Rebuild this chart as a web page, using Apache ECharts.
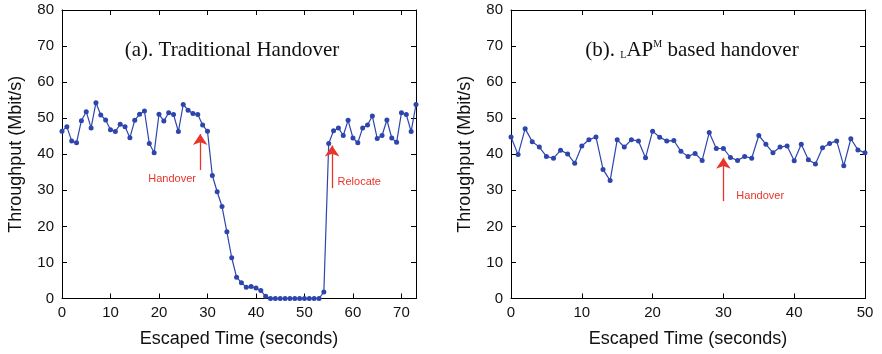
<!DOCTYPE html>
<html>
<head>
<meta charset="utf-8">
<script src="https://cdn.jsdelivr.net/npm/echarts@6/dist/echarts.min.js"></script>
<style>
  html, body { margin: 0; padding: 0; background: #fff; }
  #chart { width: 882px; height: 354px; }
</style>
</head>
<body>
<div id="chart"></div>
<script>
// (a) traditional handover: throughput sampled once per second
const timeA = [0,1,2,3,4,5,6,7,8,9,10,11,12,13,14,15,16,17,18,19,20,21,22,23,24,25,26,27,28,29,30,31,32,33,34,35,36,37,38,39,40,41,42,43,44,45,46,47,48,49,50,51,52,53,54,55,56,57,58,59,60,61,62,63,64,65,66,67,68,69,70,71,72,73];
const throughputA = [46.4,47.6,43.7,43.2,49.3,51.8,47.3,54.3,50.9,49.5,
  46.8,46.3,48.3,47.6,44.6,49.4,51.1,52.0,43.0,40.4,
  51.1,49.2,51.5,51.0,46.3,53.8,52.2,51.3,51.0,48.1,
  46.4,34.1,29.6,25.5,18.5,11.3,5.9,4.4,3.1,3.3,
  2.9,2.2,0.6,0,0,0,0,0,0,0,
  0,0,0,0,1.8,43.0,46.5,47.3,45.2,49.4,
  44.5,43.2,47.3,48.1,50.6,44.4,45.2,49.5,44.5,43.3,
  51.5,51.0,46.3,53.8];

// (b) LAP^M based handover
const timeB = [0,1,2,3,4,5,6,7,8,9,10,11,12,13,14,15,16,17,18,19,20,21,22,23,24,25,26,27,28,29,30,31,32,33,34,35,36,37,38,39,40,41,42,43,44,45,46,47,48,49,50];
const throughputB = [44.8,39.9,47.1,43.5,42.0,39.4,38.9,41.1,40.1,37.5,
  42.3,44.0,44.8,35.8,32.7,44.0,42.0,44.0,43.7,39.0,
  46.4,44.7,43.7,43.8,40.8,39.4,40.2,38.3,46.0,41.6,
  41.6,39.1,38.3,39.4,38.9,45.2,42.8,40.4,42.0,42.3,
  38.2,42.8,38.5,37.3,41.8,43.0,43.7,36.8,44.3,41.2,40.4];

const xMaxA = 73, xMaxB = 50;
const yTicks = { min: 0, max: 80, interval: 10 };

// annotation arrows [x, yFrom, yTo] and labels [x, y, text]
const arrowsA = [[28.5, 35.6, 45.6], [55.7, 30.6, 42.4]];
const labelsA = [[22.7, 33.1, 'Handover'], [61.3, 32.2, 'Relocate']];
const arrowsB = [[30, 27.0, 39.0]];
const labelsB = [[35.2, 28.4, 'Handover']];

const titleA = '(a). Traditional Handover';
const titleB = '(b). {sub|L}AP{sup|M} based handover';

const SANS = '"Liberation Sans", Arial, Helvetica, sans-serif';
const SERIF = '"Liberation Serif", "Times New Roman", serif';
const LINE_BLUE = '#2d45ac';
const RED = '#e8352b';

function zip(xs, ys) { return xs.map((x, i) => [x, ys[i]]); }

function xAxes(gridIndex, max, showMax) {
  const base = {
    type: 'value', gridIndex, min: 0, max, interval: 10,
    splitLine: { show: false },
    axisLine: { show: true, onZero: false, lineStyle: { color: '#000', width: 1 } },
    axisTick: { show: true, inside: true, length: 5, lineStyle: { color: '#000' } }
  };
  return [
    Object.assign({}, base, {
      position: 'bottom',
      name: 'Escaped Time (seconds)', nameLocation: 'middle', nameGap: 32,
      nameTextStyle: { fontFamily: SANS, fontSize: 18, color: '#111' },
      axisLabel: { fontFamily: SANS, fontSize: 15, color: '#111', margin: 7, showMaxLabel: showMax }
    }),
    Object.assign({}, base, { position: 'top', axisLabel: { show: false } })
  ];
}

function yAxes(gridIndex) {
  const base = Object.assign({
    type: 'value', gridIndex,
    splitLine: { show: false },
    axisLine: { show: true, onZero: false, lineStyle: { color: '#000', width: 1 } },
    axisTick: { show: true, inside: true, length: 5, lineStyle: { color: '#000' } }
  }, yTicks);
  return [
    Object.assign({}, base, {
      position: 'left',
      name: 'Throughput (Mbit/s)', nameLocation: 'middle', nameGap: 37,
      nameTextStyle: { fontFamily: SANS, fontSize: 18, color: '#111' },
      axisLabel: { fontFamily: SANS, fontSize: 15, color: '#111', margin: 8 }
    }),
    Object.assign({}, base, { position: 'right', axisLabel: { show: false } })
  ];
}

function seriesFor(idx, xs, ys, arrows, labels) {
  return {
    type: 'line', xAxisIndex: idx * 2, yAxisIndex: idx * 2,
    data: zip(xs, ys),
    symbol: 'circle', symbolSize: 5, showSymbol: true,
    lineStyle: { color: LINE_BLUE, width: 1.2 },
    itemStyle: { color: LINE_BLUE },
    animation: false,
    markLine: {
      silent: true, animation: false,
      symbol: ['none', 'arrow'], symbolSize: 11,
      lineStyle: { color: RED, width: 1.3, type: 'solid' },
      label: { show: false },
      data: arrows.map(a => [{ coord: [a[0], a[1]] }, { coord: [a[0], a[2]] }])
    },
    markPoint: {
      silent: true, animation: false,
      symbol: 'circle', symbolSize: 1,
      itemStyle: { color: 'transparent' },
      data: labels.map(l => ({
        coord: [l[0], l[1]],
        label: { show: true, position: 'inside', formatter: l[2], color: RED, fontFamily: SANS, fontSize: 11 }
      }))
    }
  };
}

const chart = echarts.init(document.getElementById('chart'), null, { renderer: 'canvas' });
chart.setOption({
  animation: false,
  backgroundColor: '#fff',
  grid: [
    { left: 62, top: 10, width: 354, height: 288.5 },
    { left: 511, top: 10, width: 354, height: 288.5 }
  ],
  xAxis: xAxes(0, xMaxA, false).concat(xAxes(1, xMaxB, true)),
  yAxis: yAxes(0).concat(yAxes(1)),
  series: [
    seriesFor(0, timeA, throughputA, arrowsA, labelsA),
    seriesFor(1, timeB, throughputB, arrowsB, labelsB)
  ],
  graphic: [
    {
      type: 'text', x: 232, y: 50,
      style: {
        text: titleA, align: 'center', verticalAlign: 'middle',
        fontFamily: SERIF, fontSize: 21, fill: '#111'
      }
    },
    {
      type: 'text', x: 692, y: 50,
      style: {
        text: titleB, align: 'center', verticalAlign: 'middle',
        fontFamily: SERIF, fontSize: 21, fill: '#111',
        rich: {
          sub: { fontFamily: SERIF, fontSize: 10, verticalAlign: 'bottom', fill: '#111' },
          sup: { fontFamily: SERIF, fontSize: 10, verticalAlign: 'top', fill: '#111' }
        }
      }
    }
  ]
});
</script>
</body>
</html>
